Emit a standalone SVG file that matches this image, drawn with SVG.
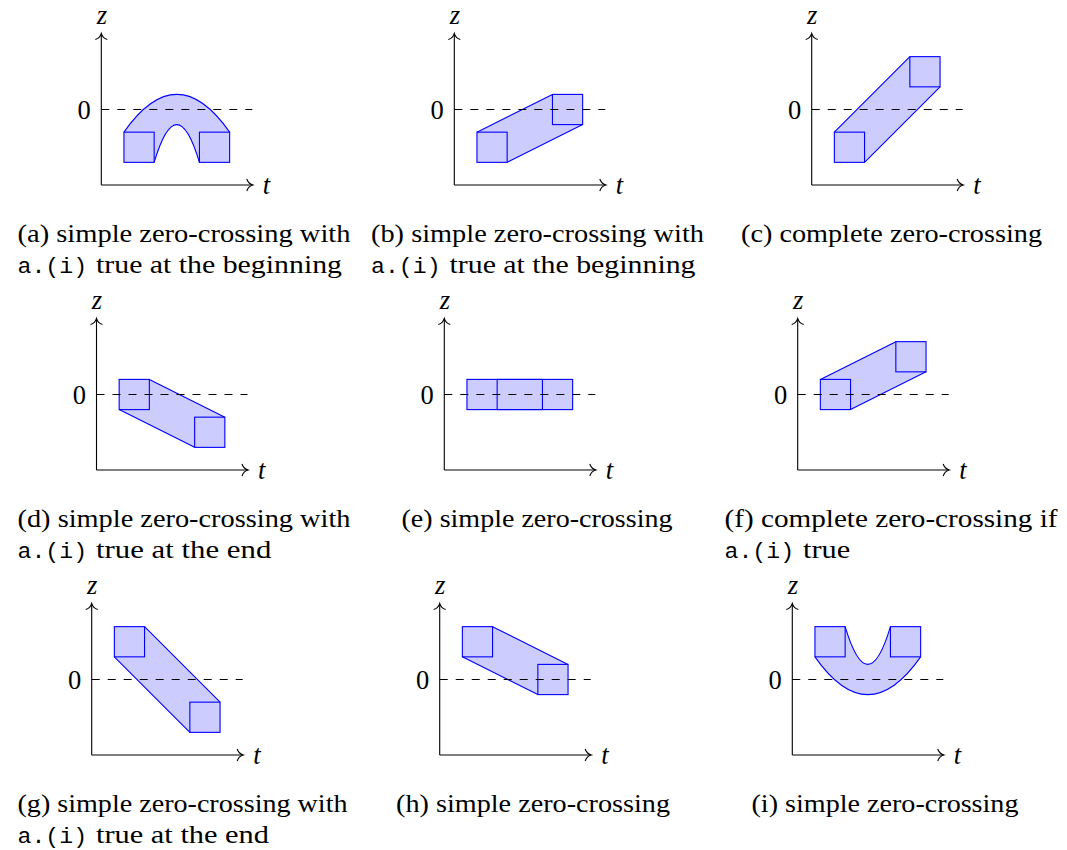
<svg xmlns="http://www.w3.org/2000/svg" width="1067" height="850" viewBox="0 0 1067 850">
<style>
.bg{fill:#fff}
.ax{stroke:#000;stroke-width:1.1;fill:none}
.zl{stroke:#000;stroke-width:1.1;stroke-dasharray:8 8;fill:none}
.band{fill:#ccccff;stroke:none}
.edge{stroke:#0000ff;stroke-width:1.1;fill:none}
.sq{fill:#ccccff;stroke:#0000ff;stroke-width:1.1}
.lbl{font-size:26.5px;fill:#000}
.it{font-style:italic}
.cap{font-size:26px;fill:#000}
.tt{font-size:22px;fill:#000}
</style>
<defs>
<marker id="arr" markerUnits="userSpaceOnUse" markerWidth="16" markerHeight="16" refX="0" refY="0" orient="auto" overflow="visible">
<path d="M -5.5 -6 C -4.5 -2.5 -1.5 -0.6 0.6 0 C -1.5 0.6 -4.5 2.5 -5.5 6" fill="none" stroke="#000" stroke-width="1.1"/>
</marker>
<g id="axes" font-family="'Liberation Serif', 'Times New Roman', serif">
<path class="ax" d="M 0 0 L 0 -151" marker-end="url(#arr)"/>
<path class="ax" d="M 0 0 L 151 0" marker-end="url(#arr)"/>
<text class="lbl it" x="0.5" y="-161" text-anchor="middle">z</text>
<text class="lbl it" x="161.5" y="9">t</text>
<text class="lbl" x="-10.5" y="-66" text-anchor="end">0</text>
</g>
<path id="zero" class="zl" d="M 0 -75.5 L 151 -75.5"/>
</defs>
<rect class="bg" x="0" y="0" width="1067" height="850"/>

<g id="panel-a" transform="translate(101.3,185)">
<path class="band" d="M 22.65 -52.85 Q 75.5 -128.35 128.35 -52.85 L 128.35 -22.65 L 98.15 -22.65 Q 75.5 -98.15 52.85 -22.65 L 22.65 -22.65 Z"/>
<rect class="sq" x="22.65" y="-52.85" width="30.2" height="30.2"/>
<rect class="sq" x="98.15" y="-52.85" width="30.2" height="30.2"/>
<path class="edge" d="M 22.65 -52.85 Q 75.5 -128.35 128.35 -52.85 M 98.15 -22.65 Q 75.5 -98.15 52.85 -22.65"/>
<use href="#zero"/>
<use href="#axes"/>
</g>

<g id="panel-b" transform="translate(454.3,185)">
<path class="band" d="M 22.65 -52.85 L 98.15 -90.6 L 128.35 -90.6 L 128.35 -60.4 L 52.85 -22.65 L 22.65 -22.65 Z"/>
<rect class="sq" x="22.65" y="-52.85" width="30.2" height="30.2"/>
<rect class="sq" x="98.15" y="-90.6" width="30.2" height="30.2"/>
<path class="edge" d="M 22.65 -52.85 L 98.15 -90.6 M 52.85 -22.65 L 128.35 -60.4"/>
<use href="#zero"/>
<use href="#axes"/>
</g>

<g id="panel-c" transform="translate(811.7,185)">
<path class="band" d="M 22.65 -52.85 L 98.15 -128.35 L 128.35 -128.35 L 128.35 -98.15 L 52.85 -22.65 L 22.65 -22.65 Z"/>
<rect class="sq" x="22.65" y="-52.85" width="30.2" height="30.2"/>
<rect class="sq" x="98.15" y="-128.35" width="30.2" height="30.2"/>
<path class="edge" d="M 22.65 -52.85 L 98.15 -128.35 M 52.85 -22.65 L 128.35 -98.15"/>
<use href="#zero"/>
<use href="#axes"/>
</g>

<g id="panel-d" transform="translate(96.5,470)">
<path class="band" d="M 22.65 -90.6 L 52.85 -90.6 L 128.35 -52.85 L 128.35 -22.65 L 98.15 -22.65 L 22.65 -60.4 Z"/>
<rect class="sq" x="22.65" y="-90.6" width="30.2" height="30.2"/>
<rect class="sq" x="98.15" y="-52.85" width="30.2" height="30.2"/>
<path class="edge" d="M 52.85 -90.6 L 128.35 -52.85 M 22.65 -60.4 L 98.15 -22.65"/>
<use href="#zero"/>
<use href="#axes"/>
</g>

<g id="panel-e" transform="translate(444.3,470)">
<rect class="band" x="22.65" y="-90.6" width="105.7" height="30.2"/>
<rect class="sq" x="22.65" y="-90.6" width="30.2" height="30.2"/>
<rect class="sq" x="98.15" y="-90.6" width="30.2" height="30.2"/>
<path class="edge" d="M 52.85 -90.6 L 98.15 -90.6 M 52.85 -60.4 L 98.15 -60.4"/>
<use href="#zero"/>
<use href="#axes"/>
</g>

<g id="panel-f" transform="translate(797.7,470)">
<path class="band" d="M 22.65 -90.6 L 98.15 -128.35 L 128.35 -128.35 L 128.35 -98.15 L 52.85 -60.4 L 22.65 -60.4 Z"/>
<rect class="sq" x="22.65" y="-90.6" width="30.2" height="30.2"/>
<rect class="sq" x="98.15" y="-128.35" width="30.2" height="30.2"/>
<path class="edge" d="M 22.65 -90.6 L 98.15 -128.35 M 52.85 -60.4 L 128.35 -98.15"/>
<use href="#zero"/>
<use href="#axes"/>
</g>

<g id="panel-g" transform="translate(91.7,755)">
<path class="band" d="M 22.65 -128.35 L 52.85 -128.35 L 128.35 -52.85 L 128.35 -22.65 L 98.15 -22.65 L 22.65 -98.15 Z"/>
<rect class="sq" x="22.65" y="-128.35" width="30.2" height="30.2"/>
<rect class="sq" x="98.15" y="-52.85" width="30.2" height="30.2"/>
<path class="edge" d="M 52.85 -128.35 L 128.35 -52.85 M 22.65 -98.15 L 98.15 -22.65"/>
<use href="#zero"/>
<use href="#axes"/>
</g>

<g id="panel-h" transform="translate(439.7,755)">
<path class="band" d="M 22.65 -128.35 L 52.85 -128.35 L 128.35 -90.6 L 128.35 -60.4 L 98.15 -60.4 L 22.65 -98.15 Z"/>
<rect class="sq" x="22.65" y="-128.35" width="30.2" height="30.2"/>
<rect class="sq" x="98.15" y="-90.6" width="30.2" height="30.2"/>
<path class="edge" d="M 52.85 -128.35 L 128.35 -90.6 M 22.65 -98.15 L 98.15 -60.4"/>
<use href="#zero"/>
<use href="#axes"/>
</g>

<g id="panel-i" transform="translate(792.3,755)">
<path class="band" d="M 22.65 -98.15 Q 75.5 -22.65 128.35 -98.15 L 128.35 -128.35 L 98.15 -128.35 Q 75.5 -52.85 52.85 -128.35 L 22.65 -128.35 Z"/>
<rect class="sq" x="22.65" y="-128.35" width="30.2" height="30.2"/>
<rect class="sq" x="98.15" y="-128.35" width="30.2" height="30.2"/>
<path class="edge" d="M 22.65 -98.15 Q 75.5 -22.65 128.35 -98.15 M 52.85 -128.35 Q 75.5 -52.85 98.15 -128.35"/>
<use href="#zero"/>
<use href="#axes"/>
</g>

<g id="connectors"></g>

<g id="captions" font-family="'Liberation Serif', 'Times New Roman', serif">
<g id="cap-a">
<text class="cap" x="17.5" y="242" textLength="333" lengthAdjust="spacingAndGlyphs">(a) simple zero-crossing with</text>
<text class="tt" font-family="'Liberation Mono', 'Courier New', monospace" x="17.5" y="273" textLength="69.6" lengthAdjust="spacingAndGlyphs">a.(i)</text>
<text class="cap" x="96" y="273" textLength="246" lengthAdjust="spacingAndGlyphs">true at the beginning</text>
</g>
<g id="cap-b">
<text class="cap" x="371" y="242" textLength="333" lengthAdjust="spacingAndGlyphs">(b) simple zero-crossing with</text>
<text class="tt" font-family="'Liberation Mono', 'Courier New', monospace" x="371" y="273" textLength="69.6" lengthAdjust="spacingAndGlyphs">a.(i)</text>
<text class="cap" x="449.5" y="273" textLength="246" lengthAdjust="spacingAndGlyphs">true at the beginning</text>
</g>
<g id="cap-c">
<text class="cap" x="741" y="242" textLength="301" lengthAdjust="spacingAndGlyphs">(c) complete zero-crossing</text>
</g>
<g id="cap-d">
<text class="cap" x="17.5" y="527" textLength="333" lengthAdjust="spacingAndGlyphs">(d) simple zero-crossing with</text>
<text class="tt" font-family="'Liberation Mono', 'Courier New', monospace" x="17.5" y="558" textLength="69.6" lengthAdjust="spacingAndGlyphs">a.(i)</text>
<text class="cap" x="96" y="558" textLength="175.3" lengthAdjust="spacingAndGlyphs">true at the end</text>
</g>
<g id="cap-e">
<text class="cap" x="401.5" y="527" textLength="271" lengthAdjust="spacingAndGlyphs">(e) simple zero-crossing</text>
</g>
<g id="cap-f">
<text class="cap" x="724.5" y="527" textLength="333" lengthAdjust="spacingAndGlyphs">(f) complete zero-crossing if</text>
<text class="tt" font-family="'Liberation Mono', 'Courier New', monospace" x="724.5" y="558" textLength="69.6" lengthAdjust="spacingAndGlyphs">a.(i)</text>
<text class="cap" x="803" y="558" textLength="47.2" lengthAdjust="spacingAndGlyphs">true</text>
</g>
<g id="cap-g">
<text class="cap" x="17.5" y="812" textLength="330" lengthAdjust="spacingAndGlyphs">(g) simple zero-crossing with</text>
<text class="tt" font-family="'Liberation Mono', 'Courier New', monospace" x="17.5" y="843" textLength="69.6" lengthAdjust="spacingAndGlyphs">a.(i)</text>
<text class="cap" x="96" y="843" textLength="173" lengthAdjust="spacingAndGlyphs">true at the end</text>
</g>
<g id="cap-h">
<text class="cap" x="396" y="812" textLength="274" lengthAdjust="spacingAndGlyphs">(h) simple zero-crossing</text>
</g>
<g id="cap-i">
<text class="cap" x="751.5" y="812" textLength="267" lengthAdjust="spacingAndGlyphs">(i) simple zero-crossing</text>
</g>
</g>
</svg>
